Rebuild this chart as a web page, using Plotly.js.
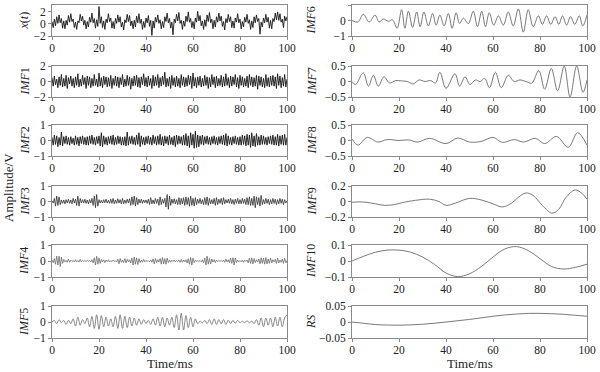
<!DOCTYPE html>
<html><head><meta charset="utf-8">
<script src="https://cdn.plot.ly/plotly-3.0.1.min.js"></script>
<style>html,body{margin:0;padding:0;background:#fff}#chart{width:600px;height:372px}</style>
</head><body><div id="chart"></div>
<script>
// ---- data (time in ms, amplitude in V) ----
const signalX = [0.4,-0.6,0.8,-0.3,1.2,0.1,1.5,0.2,0.9,-0.7,
0.5,-0.8,0.6,-0.2,1.4,0.3,1.7,0.4,0.8,-0.6,
0.3,-0.9,0.5,0.2,1.6,0.5,1.3,-0.2,0.6,-0.8,
0.4,-0.5,1.1,0.3,1.8,0.2,0.9,-0.7,0.7,-0.4,
2.9,0.1,1.2,-0.6,0.5,-0.9,0.8,0.2,1.7,0.4,
1.0,-0.7,0.4,-0.8,0.9,0.1,1.5,0.3,1.2,-0.5,
0.3,-1.0,0.7,0.2,1.6,0.4,1.4,-0.3,0.5,-0.8,
0.6,-0.5,1.3,0.2,1.7,0.1,0.8,-0.9,0.4,-0.6,
1.0,0.2,1.4,-0.4,0.6,-1.9,0.5,-0.7,1.1,0.3,
1.5,0.1,0.7,-0.8,0.4,-0.6,1.2,0.4,1.8,0.2,
0.9,-0.7,0.3,-1.8,0.8,0.2,1.6,0.5,1.9,0.1,
0.6,-0.9,0.5,-0.4,1.3,0.4,2.0,0.3,0.9,-0.6,
0.4,-0.8,1.0,0.3,2.1,0.5,1.4,-0.3,0.5,-0.9,
0.7,-0.4,1.5,0.4,1.9,0.2,0.8,-0.8,0.6,-0.5,
1.2,0.3,1.8,0.5,1.3,-0.4,0.4,-1.0,0.9,0.2,
1.6,0.4,1.2,-0.6,0.5,-0.7,1.0,0.3,1.7,0.2,
0.8,-0.8,0.4,-0.5,1.1,0.3,1.6,0.1,0.7,-0.9,
0.5,-0.6,1.2,0.2,1.5,0.4,0.9,-1.7,0.3,-0.5,
1.0,0.2,1.6,0.3,1.1,-0.7,0.6,-0.8,0.9,0.4,
1.8,0.7,2.0,0.6,1.7,0.3,0.8,-0.6,1.3,0.5,
1.2];

const imf1 = [0.5,-0.6,0.7,-0.4,0.3,-0.8,0.6,-0.5,0.9,-0.7,
0.4,-0.6,0.8,-0.9,0.5,-0.3,0.7,-0.6,0.4,-0.8,
0.6,-0.5,1.0,-0.7,0.3,-0.6,0.8,-0.4,0.5,-0.9,
0.7,-0.5,0.6,-0.8,0.4,-0.6,0.9,-0.5,0.3,-0.7,
1.1,-0.6,0.5,-0.8,0.7,-0.4,0.6,-0.7,0.5,-0.6,
0.8,-0.9,0.4,-0.5,0.7,-0.6,0.6,-0.8,0.5,-0.4,
0.9,-0.7,0.3,-0.6,0.8,-0.5,0.6,-1.0,0.4,-0.6,
0.7,-0.5,0.8,-0.7,0.5,-0.8,0.6,-0.4,1.0,-0.6,
0.5,-0.7,0.7,-0.5,0.4,-0.9,0.8,-0.6,0.6,-0.5,
0.9,-0.8,0.5,-0.6,0.7,-0.4,1.2,-0.7,0.4,-0.6,
0.6,-0.9,0.8,-0.5,0.5,-0.7,0.7,-0.6,0.4,-0.8,
0.9,-0.5,0.6,-0.7,0.5,-0.6,0.8,-0.4,0.7,-0.9,
1.1,-0.6,0.5,-0.8,0.6,-0.5,0.7,-0.7,0.4,-0.6,
0.8,-0.5,0.6,-0.9,0.5,-0.7,0.9,-0.4,0.6,-0.8,
0.7,-0.6,0.4,-0.5,0.8,-0.7,0.6,-0.6,1.0,-0.5,
0.5,-0.8,0.7,-0.6,0.6,-0.4,0.9,-0.7,0.5,-0.9,
0.8,-0.5,0.6,-0.7,0.4,-0.6,0.7,-0.8,0.9,-0.5,
0.6,-0.7,0.5,-0.6,0.8,-1.0,0.7,-0.5,0.6,-0.7,
0.4,-0.8,0.9,-0.6,0.5,-0.7,0.7,-0.5,0.8,-0.6,
0.6,-0.9,1.0,-0.5,0.7,-0.8,0.5,-0.6,0.9,-0.7,
0.3];

const imf2 = [0.2,-0.3,0.35,-0.25,0.3,-0.4,0.2,-0.3,0.55,-0.35,
0.25,-0.2,0.3,-0.25,0.2,-0.3,0.25,-0.2,0.15,-0.3,
0.3,-0.25,0.2,-0.35,0.25,-0.2,0.3,-0.25,0.2,-0.3,
0.25,-0.3,0.3,-0.2,0.35,-0.25,0.2,-0.3,0.25,-0.2,
0.3,-0.35,0.5,-0.4,0.3,-0.25,0.2,-0.3,0.25,-0.2,
0.3,-0.25,0.35,-0.3,0.2,-0.25,0.3,-0.2,0.25,-0.3,
0.2,-0.3,0.25,-0.35,0.55,-0.3,0.25,-0.2,0.3,-0.25,
0.2,-0.3,0.35,-0.25,0.5,-0.4,0.3,-0.25,0.2,-0.3,
0.25,-0.2,0.3,-0.25,0.2,-0.3,0.35,-0.2,0.25,-0.3,
0.3,-0.25,0.4,-0.3,0.25,-0.35,0.3,-0.2,0.25,-0.3,
0.35,-0.25,0.2,-0.3,0.3,-0.4,0.35,-0.25,0.3,-0.2,
0.25,-0.3,0.35,-0.3,0.45,-0.35,0.3,-0.45,0.5,-0.3,
0.4,-0.5,0.6,-0.45,0.35,-0.4,0.3,-0.25,0.35,-0.3,
0.25,-0.2,0.3,-0.25,0.2,-0.3,0.25,-0.2,0.3,-0.25,
0.2,-0.3,0.25,-0.2,0.3,-0.25,0.35,-0.3,0.45,-0.35,
0.3,-0.25,0.2,-0.3,0.25,-0.2,0.3,-0.25,0.2,-0.3,
0.25,-0.3,0.35,-0.25,0.3,-0.35,0.4,-0.3,0.35,-0.45,
0.5,-0.35,0.3,-0.4,0.45,-0.3,0.25,-0.3,0.35,-0.25,
0.3,-0.25,0.2,-0.3,0.25,-0.2,0.3,-0.25,0.35,-0.3,
0.25,-0.3,0.4,-0.35,0.3,-0.25,0.35,-0.3,0.4,-0.3,
0.2];

const imf3 = [0.05,-0.1,0.2,-0.3,0.35,-0.25,0.3,-0.2,0.1,-0.12,
0.1,-0.15,0.12,-0.1,0.15,-0.12,0.1,-0.15,0.2,-0.1,
0.15,-0.25,0.35,-0.3,0.2,-0.1,0.12,-0.1,0.15,-0.12,
0.1,-0.15,0.12,-0.1,0.2,-0.25,0.35,-0.4,0.45,-0.3,
0.12,-0.1,0.08,-0.1,0.12,-0.08,0.15,-0.1,0.08,-0.12,
0.15,-0.12,0.2,-0.15,0.1,-0.12,0.18,-0.1,0.12,-0.15,
0.2,-0.15,0.1,-0.12,0.15,-0.1,0.18,-0.25,0.3,-0.2,
0.35,-0.3,0.25,-0.2,0.15,-0.1,0.15,-0.12,0.1,-0.08,
0.1,-0.12,0.15,-0.2,0.25,-0.15,0.1,-0.15,0.2,-0.12,
0.15,-0.25,0.3,-0.2,0.15,-0.12,0.2,-0.35,0.45,-0.5,
0.35,-0.25,0.15,-0.12,0.18,-0.15,0.12,-0.2,0.25,-0.2,
0.2,-0.15,0.25,-0.25,0.3,-0.2,0.25,-0.3,0.35,-0.25,
0.2,-0.3,0.25,-0.2,0.15,-0.12,0.2,-0.15,0.12,-0.2,
0.25,-0.2,0.3,-0.25,0.2,-0.15,0.12,-0.15,0.2,-0.25,
0.25,-0.2,0.15,-0.12,0.2,-0.2,0.25,-0.15,0.12,-0.1,
0.15,-0.12,0.2,-0.15,0.12,-0.2,0.15,-0.12,0.2,-0.15,
0.12,-0.15,0.2,-0.12,0.15,-0.2,0.25,-0.2,0.3,-0.25,
0.2,-0.25,0.35,-0.4,0.3,-0.2,0.25,-0.3,0.4,-0.2,
0.12,-0.15,0.2,-0.12,0.15,-0.2,0.12,-0.15,0.2,-0.12,
0.15,-0.2,0.12,-0.15,0.2,-0.12,0.15,-0.2,0.12,-0.1,
0.05];

const imf4 = [0.05,-0.1,0.15,-0.2,0.3,-0.25,0.3,-0.35,0.25,-0.15,
0.1,-0.05,0.04,-0.08,0.12,-0.08,0.05,-0.03,0.04,-0.06,
0.08,-0.05,0.03,-0.06,0.1,-0.06,0.04,-0.03,0.02,-0.03,
0.03,-0.02,0.04,-0.06,0.08,-0.12,0.2,-0.25,0.3,-0.2,
0.2,-0.15,0.1,-0.06,0.08,-0.1,0.06,-0.04,0.08,-0.06,
0.03,-0.04,0.06,-0.03,0.03,-0.06,0.12,-0.18,0.15,-0.08,
0.06,-0.1,0.15,-0.12,0.1,-0.06,0.08,-0.12,0.18,-0.25,
0.25,-0.2,0.2,-0.22,0.15,-0.1,0.06,-0.08,0.1,-0.06,
0.04,-0.03,0.03,-0.05,0.06,-0.08,0.12,-0.18,0.15,-0.1,
0.08,-0.06,0.15,-0.2,0.22,-0.18,0.15,-0.2,0.18,-0.1,
0.06,-0.08,0.05,-0.03,0.06,-0.05,0.03,-0.04,0.06,-0.08,
0.1,-0.08,0.06,-0.05,0.08,-0.12,0.15,-0.2,0.22,-0.25,
0.18,-0.1,0.05,-0.03,0.02,-0.03,0.03,-0.05,0.08,-0.12,
0.18,-0.25,0.3,-0.2,0.15,-0.18,0.12,-0.06,0.08,-0.1,
0.06,-0.03,0.03,-0.02,0.03,-0.05,0.06,-0.08,0.12,-0.06,
0.08,-0.12,0.18,-0.15,0.2,-0.25,0.18,-0.1,0.06,-0.05,
0.03,-0.05,0.06,-0.08,0.05,-0.03,0.06,-0.12,0.18,-0.15,
0.2,-0.18,0.15,-0.1,0.08,-0.06,0.12,-0.18,0.2,-0.15,
0.18,-0.2,0.22,-0.18,0.12,-0.15,0.18,-0.12,0.08,-0.06,
0.1,-0.15,0.18,-0.12,0.06,-0.08,0.12,-0.15,0.18,-0.12,
0.05];

const imf5 = [0,0.1,-0.1,0.15,-0.05,0.1,-0.15,0.1,-0.1,0.2,
-0.25,0.3,-0.2,0.15,-0.1,0.25,-0.3,0.35,-0.4,0.45,
-0.45,0.4,-0.3,0.3,-0.25,0.2,-0.3,0.35,-0.4,0.45,
-0.4,0.35,-0.35,0.3,-0.25,0.25,-0.2,0.2,-0.15,0.15,
-0.1,0.1,-0.15,0.2,-0.2,0.3,-0.25,0.3,-0.3,0.25,
-0.2,0.3,-0.35,0.45,-0.5,0.55,-0.5,0.4,-0.35,0.3,
-0.3,0.2,-0.1,0.05,-0.05,0.1,-0.1,0.15,-0.15,0.2,
-0.15,0.15,-0.12,0.15,-0.15,0.12,-0.1,0.1,-0.08,0.1,
-0.05,0.05,-0.05,0.08,-0.05,0.05,-0.1,0.15,-0.2,0.25,
-0.3,0.25,-0.2,0.25,-0.3,0.3,-0.25,0.3,-0.3,0.25,
0.45];

const tImf6 = [0,2.5,4.8,7.3,9.8,11.5,13.3,15.5,17.2,19.2,21.1,22.5,24,25.8,27.5,29,30.6,32.5,34.3,35.8,37.4,39.2,41,42.6,44.3,45.8,47.4,49.5,51.6,53.4,55.2,56.8,58.4,60.3,62.3,64.4,66.5,68.6,70.8,72.9,75,77.1,79.3,81,82.8,84.6,86.4,88,89.6,91.3,93,94.8,96.7,98.2,100];
const imf6 = [0,-0.1,0.4,-0.1,0.35,-0.1,0.1,-0.05,0.05,-0.5,0.7,-0.5,0.6,-0.45,0.55,-0.4,0.55,-0.35,0.45,-0.3,0.35,-0.35,0.45,-0.5,0.5,-0.2,0.15,-0.2,0.6,-0.4,0.6,-0.4,0.5,-0.3,0.3,-0.3,0.55,-0.35,0.75,-0.75,0.7,-0.4,0.3,-0.25,0.3,-0.25,0.25,-0.25,0.3,-0.3,0.25,-0.25,0.3,-0.35,0.35];

const tImf7 = [0,1.5,4.8,7,9.1,11.2,13.6,16,18.5,21,23.5,26,28.5,31,33.5,35.5,37.4,40,43.8,45.8,48.1,50.2,52.5,54.5,56.5,58.5,61,63.5,66.5,69,71.5,74,76.5,79.5,82,84.8,87.5,90.3,92.8,95.6,98.3,100];
const imf7 = [0,-0.1,0.28,-0.15,0.2,-0.15,0.15,-0.05,0.03,0.02,0.0,-0.08,0.05,0.0,0.03,-0.05,0.3,-0.22,0.25,-0.15,0.15,-0.1,0.05,0.0,0.1,-0.2,0.3,-0.2,0.2,0.0,0.05,0.0,-0.05,0.35,-0.25,0.42,-0.3,0.5,-0.5,0.5,-0.35,0.05];

const tImf8 = [0,2.5,6.5,11,15,20,24,28,33,40,45,50,55,60,64,69,73,78,82,87,92,96,100];
const imf8 = [0.05,-0.15,0.1,-0.05,0.03,0.0,0.02,-0.05,0.07,-0.1,0.08,-0.05,-0.03,0.1,-0.06,0.03,-0.05,0.07,-0.1,0.13,-0.22,0.25,-0.15];

const tImf9 = [0,3,6,10,14,18,22,27,33,37,40,44,50,55,60,64,68,71,74,77,81,85,88,91,95,98,100];
const imf9 = [-0.01,-0.005,-0.01,-0.03,-0.05,-0.04,-0.01,0.015,0.03,0,-0.05,-0.02,0.04,0.02,-0.03,-0.07,-0.02,0.06,0.11,0.08,-0.05,-0.15,-0.1,0.05,0.15,0.1,0.03];

const imf10 = [0,0.03,0.055,0.068,0.068,0.055,0.025,-0.02,-0.075,-0.098,-0.08,-0.035,0.025,0.075,0.09,0.065,0.015,-0.035,-0.05,-0.04,-0.02];
const residue = [0,-0.004,-0.008,-0.0095,-0.01,-0.009,-0.007,-0.004,0,0.004,0.008,0.013,0.018,0.022,0.025,0.027,0.027,0.026,0.024,0.021,0.018];

const xTicks = [0,20,40,60,80,100];

// ---- layout config ----
const W = 600, H = 372;
const rowsPx = [[5,36],[66,97],[125,156],[186,217],[245,277],[306,338]];
const colsPx = [[52,287],[352,587]];
const DARK = '#151515', MID = '#2e2e2e', GRAY = '#6a6a6a';

const panels = [
  {label:'<i>x</i>(<i>t</i>)', y:signalX, x0:0, dx:0.5, range:[-2,3.15], tv:[-2,0,2], color:DARK, w:0.9},
  {label:'<i>IMF</i>1', y:imf1, x0:0, dx:0.5, range:[-2,2], tv:[-2,0,2], color:DARK, w:0.9},
  {label:'<i>IMF</i>2', y:imf2, x0:0, dx:0.5, range:[-1,1], tv:[-1,0,1], color:DARK, w:0.9},
  {label:'<i>IMF</i>3', y:imf3, x0:0, dx:0.5, range:[-1,1], tv:[-1,0,1], color:MID, w:0.8},
  {label:'<i>IMF</i>4', y:imf4, x0:0, dx:0.5, range:[-1,1], tv:[-1,0,1], color:GRAY, w:0.8},
  {label:'<i>IMF</i>5', y:imf5, x0:0, dx:1, range:[-1,1], tv:[-1,0,1], color:GRAY, w:0.8, spline:true},
  {label:'<i>IMF</i>6', y:imf6, x:tImf6, range:[-1,1], tv:[-1,0,1], color:GRAY, w:0.9, spline:true},
  {label:'<i>IMF</i>7', y:imf7, x:tImf7, range:[-0.5,0.5], tv:[-0.5,0,0.5], color:GRAY, w:0.9, spline:true},
  {label:'<i>IMF</i>8', y:imf8, x:tImf8, range:[-0.5,0.5], tv:[-0.5,0,0.5], color:GRAY, w:0.9, spline:true},
  {label:'<i>IMF</i>9', y:imf9, x:tImf9, range:[-0.2,0.2], tv:[-0.2,0,0.2], color:GRAY, w:0.9, spline:true},
  {label:'<i>IMF</i>10', y:imf10, x0:0, dx:5, range:[-0.1,0.1], tv:[-0.1,0,0.1], color:GRAY, w:0.9, spline:true},
  {label:'<i>RS</i>', y:residue, x0:0, dx:5, range:[-0.05,0.05], tv:[-0.05,0,0.05], color:GRAY, w:0.9, spline:true}
];

const FONT = 'Liberation Serif';
const traces = [];
const layout = {
  width:W, height:H, margin:{l:0,r:0,t:0,b:0},
  paper_bgcolor:'#fff', plot_bgcolor:'#fff', showlegend:false,
  font:{family:FONT, size:12, color:'#222'},
  annotations:[]
};

panels.forEach((p, i) => {
  const col = i < 6 ? 0 : 1, row = i % 6;
  const n = i + 1, sfx = n === 1 ? '' : n;
  const tr = {type:'scatter', mode:'lines', y:p.y, xaxis:'x'+sfx, yaxis:'y'+sfx,
    line:{color:p.color, width:p.w, shape:p.spline ? 'spline' : 'linear'}, hoverinfo:'skip'};
  if (p.x) tr.x = p.x; else { tr.x0 = p.x0; tr.dx = p.dx; }
  traces.push(tr);
  const [c0,c1] = colsPx[col], [r0,r1] = rowsPx[row];
  const axBase = {showgrid:false, zeroline:false, showline:true, mirror:true,
    linecolor:'#8a8a8a', linewidth:1, ticks:'outside', ticklen:3, tickcolor:'#8a8a8a',
    tickfont:{family:FONT, size:11.5, color:'#222'}, fixedrange:true};
  layout['xaxis'+sfx] = Object.assign({}, axBase, {domain:[c0/W, c1/W], range:[0,100],
    tickvals:xTicks, anchor:'y'+sfx, ticklabelstandoff:-2});
  layout['yaxis'+sfx] = Object.assign({}, axBase, {domain:[1-r1/H, 1-r0/H], range:p.range,
    tickvals:p.tv, anchor:'x'+sfx});
  layout.annotations.push({text:p.label, textangle:-90, xref:'paper', yref:'paper',
    x:(col===0 ? 24 : 311)/W, y:1-((r0+r1)/2)/H, showarrow:false, xanchor:'center', yanchor:'middle',
    font:{family:FONT, size:12, color:'#222'}});
});

layout.annotations.push({text:'Amplitude/V', textangle:-90, xref:'paper', yref:'paper',
  x:8/W, y:1-188/H, showarrow:false, xanchor:'center', yanchor:'middle',
  font:{family:FONT, size:13, color:'#222'}});
[170, 470].forEach(cx => layout.annotations.push({text:'Time/ms', xref:'paper', yref:'paper',
  x:cx/W, y:1-363/H, showarrow:false, xanchor:'center', yanchor:'middle',
  font:{family:FONT, size:13, color:'#222'}}));

Plotly.newPlot('chart', traces, layout, {displayModeBar:false, staticPlot:true});
</script></body></html>
